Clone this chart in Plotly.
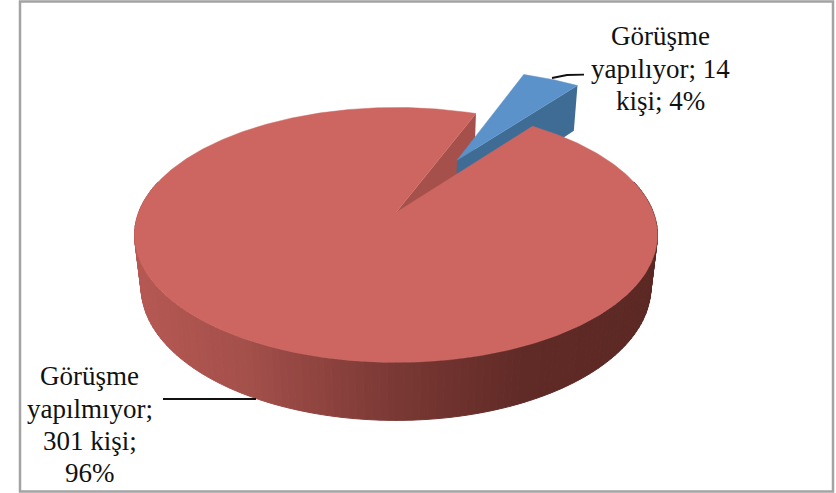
import numpy as np
import plotly.graph_objects as go

# Survey counts
categories = ["Görüşme yapılıyor", "Görüşme yapılmıyor"]
counts = [14, 301]
label_lines = [
    ["Görüşme", "yapılıyor; {n}", "kişi; {p}%"],
    ["Görüşme", "yapılmıyor;", "{n} kişi;", "{p}%"],
]

# Tilted-disc projection, in page pixels
CX, CY = 396.0, 212.5
SCALE_X, SCALE_Y, THICK = 257.4, 123.5, 53.0
PERSP, DEPTH_PERSP = 0.176, 0.025
FIRST_ANGLE = 21.2
EXPLODE = 0.525

RED_TOP, RED_WALL = "#CD6660", "#A5504B"
BLUE_TOP, BLUE_WALL = "#5B92C9", "#3E6C95"
RIM_STOPS = [(0.0, (182, 88, 83)), (0.2, (165, 80, 75)), (0.5, (122, 56, 52)),
             (0.75, (96, 42, 38)), (1.0, (92, 40, 35))]
W, H = 836, 493


def project(u, v, d=0.0):
    """Map a point on the unit disc (d=0 top face, d=1 underside) to the page."""
    w = 1 + PERSP * v + DEPTH_PERSP * d
    return CX + SCALE_X * u / w, CY - (SCALE_Y * v - THICK * d) / w


def polar(theta, r=1.0, off=(0.0, 0.0)):
    t = np.radians(theta)
    return off[0] + r * np.sin(t), off[1] + r * np.cos(t)


def sector(a0, a1, off=(0.0, 0.0)):
    ang = np.linspace(a0, a1, max(int(abs(a1 - a0) * 2), 8))
    u, v = polar(ang, 1.0, off)
    return np.r_[off[0], u, off[0]], np.r_[off[1], v, off[1]]


def wall(theta, off=(0.0, 0.0)):
    u, v = polar(theta, np.array([0.0, 1.0]), off)
    xt, yt = project(u, v, 0)
    xb, yb = project(u[::-1], v[::-1], 1)
    return np.r_[xt, xb, xt[0]], np.r_[yt, yb, yt[0]]


def rim_colour(x):
    t = float(np.clip((x - 134) / 523, 0, 1))
    pos = [s[0] for s in RIM_STOPS]
    rgb = [np.interp(t, pos, [s[1][i] for s in RIM_STOPS]) for i in range(3)]
    return "rgb({:.0f},{:.0f},{:.0f})".format(*rgb)


def poly(x, y, colour, line_width=0.0):
    return go.Scatter(x=x, y=y, mode="lines", fill="toself", fillcolor=colour,
                      line=dict(color=colour, width=line_width),
                      hoverinfo="skip", showlegend=False)


total = sum(counts)
sweep = [c / total * 360 for c in counts]
blue_a0, blue_a1 = FIRST_ANGLE, FIRST_ANGLE + sweep[0]
red_a0, red_a1 = blue_a1, blue_a1 + sweep[1]
mid = np.radians((blue_a0 + blue_a1) / 2)
offset = (EXPLODE * np.sin(mid), EXPLODE * np.cos(mid))

fig = go.Figure()

# Cut face of the large slice, seen through the gap
fig.add_trace(poly(*wall(red_a1), RED_WALL))

# Pulled-out slice: cut face, then top
fig.add_trace(poly(*wall(blue_a1, offset), BLUE_WALL))
fig.add_trace(poly(*project(*sector(blue_a0, blue_a1, offset)), BLUE_TOP, 0.5))

# Outer rim of the large slice, shaded in narrow strips
edges = np.linspace(75, 285, 141)
for a0, a1 in zip(edges[:-1], edges[1:]):
    u, v = polar(np.array([a0, a1]))
    xt, yt = project(u, v, 0)
    xb, yb = project(u[::-1], v[::-1], 1)
    fig.add_trace(poly(np.r_[xt, xb, xt[0]], np.r_[yt, yb, yt[0]],
                       rim_colour(xt.mean()), 1.0))

# Top of the large slice
fig.add_trace(poly(*project(*sector(red_a0, red_a1)), RED_TOP, 0.5))

# Leader lines
leaders = [([552, 567, 584], [78, 75, 74.7]), ([163, 256], [399, 399])]
for lx, ly in leaders:
    fig.add_trace(go.Scatter(x=lx, y=ly, mode="lines", hoverinfo="skip", showlegend=False,
                             line=dict(color="#111111", width=1.8)))

# Data labels, one annotation per line for tight leading
anchors = [(660, [36, 69, 101]), (89.5, [376, 409, 441, 473])]
for lines, cnt, (ax, ys) in zip(label_lines, counts, anchors):
    pct = round(cnt / total * 100)
    for txt, ay in zip(lines, ys):
        fig.add_annotation(x=ax, y=ay, text=txt.format(n=cnt, p=pct), showarrow=False,
                           xanchor="center", yanchor="middle",
                           font=dict(family="Liberation Serif", size=27, color="#111111"))

fig.update_layout(
    width=W, height=H, margin=dict(l=0, r=0, t=0, b=0),
    paper_bgcolor="white", plot_bgcolor="white", showlegend=False,
    xaxis=dict(range=[0, W], visible=False, fixedrange=True),
    yaxis=dict(range=[H, 0], visible=False, fixedrange=True),
    shapes=[dict(type="rect", xref="x", yref="y", x0=20, y0=1.5, x1=833, y1=491.5,
                 line=dict(color="#A3A3A3", width=2.5), layer="below")],
)

fig.write_html("out.html", config={"displayModeBar": False})
